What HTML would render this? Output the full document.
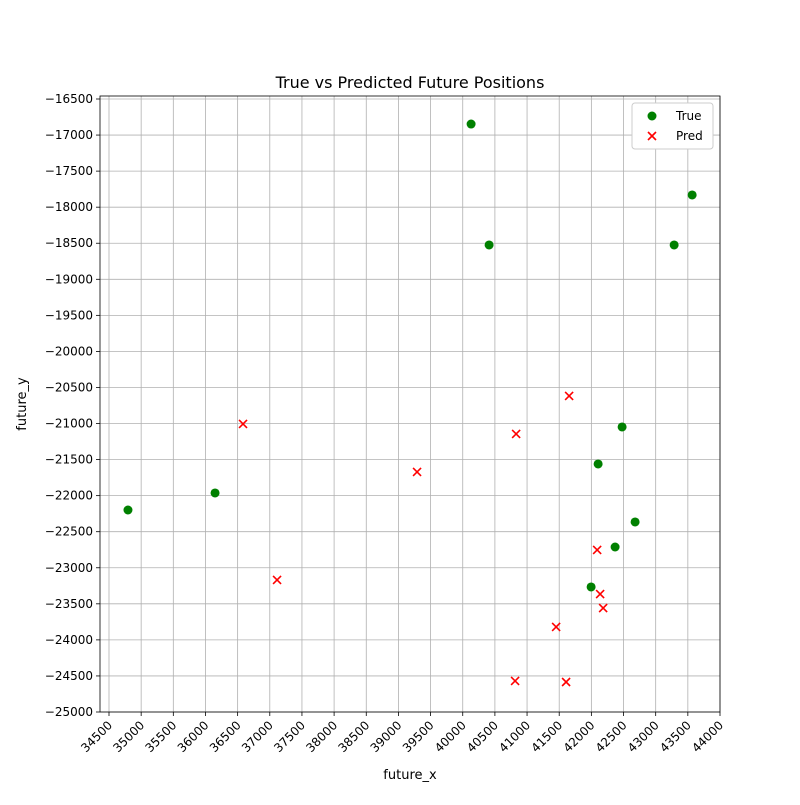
<!DOCTYPE html>
<html><head><meta charset="utf-8"><style>
body{margin:0;background:#fff;font-family:"Liberation Sans","DejaVu Sans",sans-serif;}
svg text{font-family:"DejaVu Sans","Liberation Sans",sans-serif;}
</style></head><body>
<svg id="chart" width="800" height="800" xmlns="http://www.w3.org/2000/svg"></svg>
<script>
const trueX=[34795,36149,40130,40410,42105,42478,42369,42680,41996,43287,43567];
const trueY=[-22199,-21963,-16847,-18524,-21561,-21048,-22712,-22365,-23266,-18524,-17831];
const predX=[36584,37113,39290,40830,41654,42090,42136,42183,41452,40814,41607];
const predY=[-21006,-23169,-21672,-21145,-20618,-22753,-23364,-23558,-23821,-24570,-24584];
const xTicks=[34500,35000,35500,36000,36500,37000,37500,38000,38500,39000,39500,40000,40500,41000,41500,42000,42500,43000,43500,44000];
const yTicks=[-16500,-17000,-17500,-18000,-18500,-19000,-19500,-20000,-20500,-21000,-21500,-22000,-22500,-23000,-23500,-24000,-24500,-25000];
const L=100,R=720,T=96,B=712;
const sx=v=>109+(v-34500)*(611/9500);
const sy=v=>99+(-16500-v)*(613/8500);
const svg=document.getElementById('chart');
const NS='http://www.w3.org/2000/svg';
function mk(tag,attrs,parent){const e=document.createElementNS(NS,tag);for(const k in attrs)e.setAttribute(k,attrs[k]);(parent||svg).appendChild(e);return e;}
const grid=mk('g',{});


xTicks.forEach(v=>{const x=sx(v);
 mk('line',{x1:x,x2:x,y1:T,y2:B,stroke:'#b0b0b0','stroke-width':0.8},grid);
 mk('line',{x1:x,x2:x,y1:B,y2:B+4,stroke:'#000','stroke-width':0.8});
 const t=mk('text',{x:x+4,y:B+14,'font-size':12,'text-anchor':'end',transform:`rotate(-45 ${x+4} ${B+14})`});
 t.textContent=v;
 
 
});
yTicks.forEach(v=>{const y=sy(v);
 mk('line',{x1:L,x2:R,y1:y,y2:y,stroke:'#b0b0b0','stroke-width':0.8},grid);
 mk('line',{x1:L-4,x2:L,y1:y,y2:y,stroke:'#000','stroke-width':0.8});
 const t=mk('text',{x:L-7,y:y+4,'font-size':12,'text-anchor':'end'});
 t.textContent=v.toString().replace('-','\u2212');
 
 
});
const frame=mk('rect',{x:L,y:T,width:R-L,height:B-T,fill:'none',stroke:'#000','stroke-width':0.8});


trueX.forEach((v,i)=>{const c=mk('circle',{cx:sx(v),cy:sy(trueY[i]),r:4.5,fill:'green'});
 
 });
function cross(x,y,s,name){const g=mk('g',{stroke:'red','stroke-width':1.6});
 mk('line',{x1:x-s,y1:y-s,x2:x+s,y2:y+s},g);mk('line',{x1:x-s,y1:y+s,x2:x+s,y2:y-s},g);
 
 return g;}
predX.forEach((v,i)=>cross(sx(v),sy(predY[i]),4,'pred-point'));
const title=mk('text',{x:410,y:88,'font-size':16,'text-anchor':'middle'});title.textContent='True vs Predicted Future Positions';


const xl=mk('text',{x:410,y:779,'font-size':13,'text-anchor':'middle'});xl.textContent='future_x';


const yl=mk('text',{x:26,y:404,'font-size':13,'text-anchor':'middle',transform:'rotate(-90 26 404)'});yl.textContent='future_y';


const lg=mk('g',{});


mk('rect',{x:632,y:103,width:81,height:46,rx:3,fill:'#fff',stroke:'#ccc','stroke-width':1},lg);
mk('circle',{cx:652,cy:116,r:4.5,fill:'green'},lg);
const t1=mk('text',{x:676,y:120,'font-size':12},lg);t1.textContent='True';


const c2=cross(652,136,4,'legend-marker-pred');lg.appendChild(c2);
const t2=mk('text',{x:676,y:140,'font-size':12},lg);t2.textContent='Pred';


</script>
</body></html>
